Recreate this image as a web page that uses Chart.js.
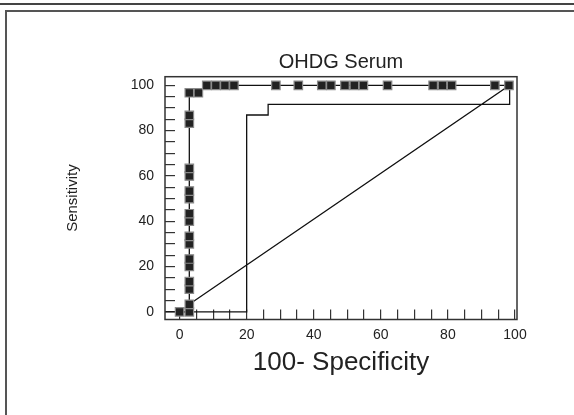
<!DOCTYPE html>
<html>
<head>
<meta charset="utf-8">
<script src="https://cdn.jsdelivr.net/npm/chart.js@4"></script>
<style>
  html, body { margin: 0; padding: 0; background: #fff; }
  #wrap { position: relative; width: 574px; height: 415px; overflow: hidden; }
  #topLine { position: absolute; left: 0; top: 3px; width: 574px; height: 2px; background: #444; }
  #frame { position: absolute; left: 5px; top: 10px; width: 700px; height: 600px; border: 2px solid #555; }
  canvas { position: absolute; left: 0; top: 0; }
</style>
</head>
<body>
<div id="wrap">
  <div id="topLine"></div>
  <div id="frame"></div>
  <canvas id="chartRoc" width="574" height="415"></canvas>
</div>
<script>
// curva con marcadores (100-especificidad, sensibilidad)
const rocX = [0, 2.9, 2.9, 2.9, 2.9, 2.9, 2.9, 2.9, 2.9, 2.9, 2.9, 2.9, 2.9, 2.9, 2.9, 2.9, 2.9, 2.9,
              5.6, 8.1, 10.8, 13.5, 16.2, 28.7, 35.4, 42.4, 45.1, 49.3, 52.1, 54.8, 62, 75.6, 78.4, 81.1, 94, 98.2];
const rocY = [0, 0, 3.3, 10, 13.3, 20, 23.3, 30, 33.3, 40, 43.3, 50, 53.3, 60, 63.3, 83.3, 86.7, 96.7,
              96.7, 100, 100, 100, 100, 100, 100, 100, 100, 100, 100, 100, 100, 100, 100, 100, 100, 100];

// curva fina sin marcadores
const finaX = [-6, 20, 20, 26.4, 26.4, 98.4, 98.4, 2.9];
const finaY = [0, 0, 86.9, 86.9, 91.6, 91.6, 100, 3.3];

// ejes
const ejeX = { min: -4.35, max: 100.6, paso: 5, etiquetas: [0, 20, 40, 60, 80, 100] };
const ejeY = { min: -3.4, max: 103.8, paso: 5, etiquetas: [0, 20, 40, 60, 80, 100] };

const puntos = (xs, ys) => xs.map((x, i) => ({ x: x, y: ys[i] }));
const fuente = 'Liberation Sans, Arial';

// marco del área del gráfico
const marcoPlugin = {
    id: 'marco',
    afterDraw(chart) {
        const a = chart.chartArea;
        const ctx = chart.ctx;
        ctx.save();
        ctx.strokeStyle = '#333';
        ctx.lineWidth = 1.5;
        ctx.strokeRect(a.left, a.top, a.right - a.left, a.bottom - a.top);
        ctx.restore();
    }
};

const ctx = document.getElementById('chartRoc').getContext('2d');
new Chart(ctx, {
    type: 'scatter',
    data: {
        datasets: [{
            data: puntos(rocX, rocY),
            showLine: true,
            borderColor: '#111',
            borderWidth: 1.3,
            pointStyle: 'rect',
            pointRadius: 6,
            pointBackgroundColor: '#222',
            pointBorderColor: '#8a8a8a',
            pointBorderWidth: 1.2
        }, {
            data: puntos(finaX, finaY),
            showLine: true,
            borderColor: '#111',
            borderWidth: 1.3,
            pointRadius: 0
        }]
    },
    options: {
        responsive: false,
        animation: false,
        layout: { padding: { left: 63.6, right: 57, top: 0, bottom: 35.5 } },
        plugins: {
            legend: { display: false },
            tooltip: { enabled: false },
            title: { display: false }
        },
        scales: {
            x: {
                type: 'linear',
                min: ejeX.min,
                max: ejeX.max,
                afterFit: s => { s.height = 60; },
                border: { display: false },
                grid: { drawOnChartArea: false, tickLength: -10, color: '#333', lineWidth: 1.2 },
                ticks: {
                    stepSize: ejeX.paso,
                    includeBounds: false,
                    autoSkip: false,
                    maxRotation: 0,
                    padding: 17,
                    color: '#222',
                    font: { family: fuente, size: 14 },
                    callback: v => ejeX.etiquetas.includes(v) ? String(v) : ''
                },
                title: {
                    display: true,
                    text: '100- Specificity',
                    color: '#222',
                    font: { family: fuente, size: 26 },
                    padding: { top: 0, bottom: 1 }
                }
            },
            // eje superior solo para el título centrado sobre el área
            arriba: {
                type: 'linear',
                position: 'top',
                min: ejeX.min,
                max: ejeX.max,
                afterFit: s => { s.height = 76.7; },
                border: { display: false },
                grid: { display: false },
                ticks: { display: false },
                title: {
                    display: true,
                    text: 'OHDG Serum',
                    color: '#222',
                    font: { family: fuente, size: 20 },
                    padding: { top: 50, bottom: 0 }
                }
            },
            y: {
                type: 'linear',
                min: ejeY.min,
                max: ejeY.max,
                afterFit: s => { s.width = 101.4; },
                border: { display: false },
                grid: { drawOnChartArea: false, tickLength: -10, color: '#333', lineWidth: 1.2 },
                ticks: {
                    stepSize: ejeY.paso,
                    includeBounds: false,
                    autoSkip: false,
                    padding: 21,
                    color: '#222',
                    font: { family: fuente, size: 14 },
                    callback: v => ejeY.etiquetas.includes(v) ? String(v) : ''
                },
                title: {
                    display: true,
                    text: 'Sensitivity',
                    color: '#222',
                    font: { family: fuente, size: 15 },
                    padding: { top: 0, bottom: 0 }
                }
            }
        }
    },
    plugins: [marcoPlugin]
});
</script>
</body>
</html>
